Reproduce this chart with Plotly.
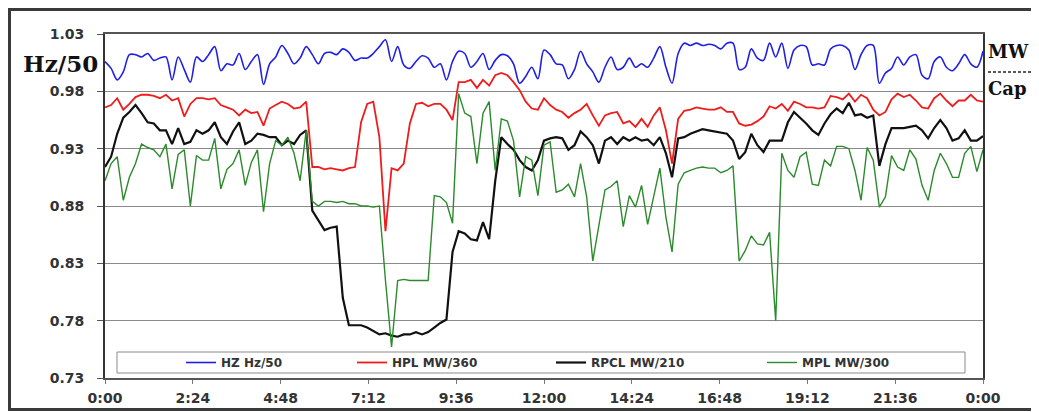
import plotly.graph_objects as go

# ---------------- data ----------------
minutes = list(range(0, 1441, 10))  # 10-minute samples over one day

hz_hz50 = [
    1.006, 1.000, 0.990, 0.997, 1.012, 1.012, 1.010, 1.013, 1.007, 1.009,
    1.010, 0.990, 1.010, 0.999, 0.988, 1.010, 1.006, 1.012, 1.019, 0.998,
    1.004, 1.003, 1.013, 0.999, 1.006, 1.012, 0.986, 1.004, 1.010, 1.020,
    1.013, 1.004, 1.009, 1.019, 1.012, 1.004, 1.013, 1.014, 1.012, 1.017,
    1.014, 1.007, 1.009, 1.009, 1.013, 1.019, 1.025, 1.006, 1.019, 1.003,
    1.000, 1.006, 1.011, 1.009, 1.001, 1.004, 0.990, 1.006, 1.015, 1.013,
    1.001, 1.006, 1.013, 0.999, 1.007, 1.012, 1.011, 1.004, 0.987, 0.993,
    1.001, 0.991, 1.016, 1.012, 1.004, 1.003, 0.991, 0.999, 1.015, 1.004,
    0.997, 0.988, 1.001, 1.010, 0.999, 1.001, 1.009, 1.001, 1.004, 1.001,
    1.009, 1.019, 1.001, 0.987, 1.013, 1.022, 1.020, 1.022, 1.020, 1.021,
    1.020, 1.017, 1.022, 1.022, 0.999, 1.001, 1.017, 1.009, 1.007, 1.022,
    1.010, 1.022, 1.000, 1.016, 1.020, 1.019, 1.003, 1.004, 1.003, 1.017,
    1.020, 1.020, 1.016, 0.999, 1.012, 1.020, 1.020, 0.987, 0.996, 1.000,
    1.010, 1.003, 1.010, 1.012, 0.994, 0.991, 1.006, 1.010, 1.001, 0.998,
    1.004, 1.012, 1.004, 1.001, 1.015,
]

hpl_mw360 = [
    0.966, 0.968, 0.974, 0.964, 0.969, 0.975, 0.977, 0.977, 0.976, 0.974,
    0.977, 0.972, 0.974, 0.958, 0.969, 0.974, 0.974, 0.973, 0.974, 0.968,
    0.966, 0.964, 0.959, 0.964, 0.961, 0.962, 0.950, 0.965, 0.968, 0.971,
    0.969, 0.965, 0.966, 0.971, 0.914, 0.914, 0.912, 0.913, 0.912, 0.911,
    0.913, 0.914, 0.953, 0.969, 0.971, 0.940, 0.858, 0.913, 0.911, 0.917,
    0.952, 0.969, 0.970, 0.967, 0.969, 0.969, 0.964, 0.955, 0.988, 0.988,
    0.990, 0.983, 0.990, 0.985, 0.994, 0.996, 0.994, 0.988, 0.981, 0.971,
    0.965, 0.964, 0.974, 0.968, 0.964, 0.962, 0.957, 0.961, 0.964, 0.969,
    0.959, 0.950, 0.959, 0.961, 0.962, 0.952, 0.954, 0.949, 0.956, 0.949,
    0.959, 0.966, 0.946, 0.917, 0.956, 0.963, 0.964, 0.966, 0.965, 0.964,
    0.964, 0.966, 0.962, 0.962, 0.952, 0.950, 0.951, 0.954, 0.958, 0.967,
    0.965, 0.969, 0.963, 0.971, 0.969, 0.966, 0.966, 0.965, 0.966, 0.976,
    0.975, 0.973, 0.978, 0.971, 0.977, 0.974, 0.964, 0.959, 0.962, 0.973,
    0.978, 0.975, 0.977, 0.972, 0.966, 0.965, 0.974, 0.978, 0.972, 0.967,
    0.972, 0.972, 0.977, 0.972, 0.971,
]

rpcl_mw210 = [
    0.914, 0.923, 0.943, 0.957, 0.962, 0.968, 0.961, 0.953, 0.952, 0.946,
    0.946, 0.934, 0.948, 0.934, 0.936, 0.946, 0.943, 0.946, 0.953, 0.940,
    0.934, 0.945, 0.953, 0.934, 0.937, 0.943, 0.942, 0.940, 0.940, 0.933,
    0.937, 0.934, 0.942, 0.946, 0.876, 0.867, 0.859, 0.861, 0.862, 0.800,
    0.776, 0.776, 0.776, 0.774, 0.771, 0.768, 0.769, 0.767, 0.766, 0.768,
    0.768, 0.770, 0.768, 0.770, 0.774, 0.778, 0.781, 0.840, 0.858, 0.856,
    0.851, 0.850, 0.866, 0.851, 0.902, 0.940, 0.934, 0.929, 0.920, 0.914,
    0.911, 0.920, 0.937, 0.939, 0.940, 0.939, 0.929, 0.933, 0.945, 0.940,
    0.933, 0.917, 0.937, 0.940, 0.934, 0.940, 0.937, 0.940, 0.937, 0.938,
    0.933, 0.940, 0.926, 0.905, 0.939, 0.940, 0.943, 0.945, 0.947, 0.946,
    0.945, 0.944, 0.943, 0.937, 0.921, 0.927, 0.943, 0.933, 0.927, 0.937,
    0.937, 0.937, 0.953, 0.962, 0.957, 0.952, 0.946, 0.942, 0.952, 0.960,
    0.965, 0.961, 0.970, 0.959, 0.960, 0.957, 0.959, 0.915, 0.934, 0.948,
    0.948, 0.948, 0.949, 0.950, 0.946, 0.939, 0.948, 0.955, 0.948, 0.937,
    0.939, 0.946, 0.937, 0.937, 0.941,
]

mpl_mw300 = [
    0.902, 0.917, 0.923, 0.885, 0.905, 0.917, 0.934, 0.931, 0.929, 0.923,
    0.934, 0.895, 0.925, 0.929, 0.880, 0.924, 0.920, 0.920, 0.939, 0.895,
    0.912, 0.917, 0.929, 0.898, 0.918, 0.929, 0.875, 0.917, 0.937, 0.933,
    0.940, 0.926, 0.902, 0.946, 0.884, 0.880, 0.884, 0.884, 0.883, 0.884,
    0.882, 0.882, 0.880, 0.880, 0.879, 0.880, 0.815, 0.757, 0.815, 0.816,
    0.815, 0.815, 0.815, 0.815, 0.889, 0.888, 0.883, 0.865, 0.978, 0.961,
    0.958, 0.917, 0.961, 0.971, 0.911, 0.956, 0.954, 0.937, 0.888, 0.923,
    0.920, 0.889, 0.933, 0.936, 0.892, 0.894, 0.899, 0.888, 0.917, 0.888,
    0.832, 0.862, 0.894, 0.897, 0.902, 0.862, 0.889, 0.879, 0.898, 0.864,
    0.888, 0.913, 0.870, 0.840, 0.899, 0.909, 0.911, 0.913, 0.914, 0.913,
    0.913, 0.909, 0.911, 0.915, 0.832, 0.841, 0.854, 0.847, 0.846, 0.857,
    0.780, 0.926, 0.911, 0.905, 0.923, 0.927, 0.899, 0.898, 0.920, 0.915,
    0.932, 0.932, 0.930, 0.911, 0.885, 0.931, 0.920, 0.879, 0.888, 0.924,
    0.914, 0.911, 0.929, 0.921, 0.898, 0.885, 0.911, 0.926, 0.917, 0.905,
    0.905, 0.926, 0.932, 0.910, 0.929,
]

series_names = ["HZ Hz/50", "HPL MW/360", "RPCL MW/210", "MPL MW/300"]
x_tick_vals = [0, 144, 288, 432, 576, 720, 864, 1008, 1152, 1296, 1440]
x_tick_labels = ["0:00", "2:24", "4:48", "7:12", "9:36", "12:00",
                 "14:24", "16:48", "19:12", "21:36", "0:00"]
y_tick_vals = [0.73, 0.78, 0.83, 0.88, 0.93, 0.98, 1.03]
y_tick_labels = ["0.73", "0.78", "0.83", "0.88", "0.93", "0.98", "1.03"]

# ---------------- layout geometry ----------------
# The page body has an 8px margin, so the figure starts at screen (8, 8).
OFF = 8
W, H = 1031, 404
PL, PR, PT, PB = 105, 983, 34, 378          # plot area in screen pixels
L, R, T, B = PL - OFF, OFF + W - PR, PT - OFF, OFF + H - PB
PW, PH = PR - PL, PB - PT


def px(xs):
    """screen x pixel -> paper x"""
    return (xs - PL) / PW


def py(ys):
    """screen y pixel -> paper y"""
    return (PB - ys) / PH


colors = ["#1f1fe6", "#ee1c1c", "#111111", "#2b8a2b"]
widths = [1.6, 1.8, 2.2, 1.4]
shapes = ["spline", "linear", "linear", "linear"]
series = [hz_hz50, hpl_mw360, rpcl_mw210, mpl_mw300]
legend_ids = ["legend", "legend2", "legend3", "legend4"]
legend_line_start = [187, 358, 557, 768]

fig = go.Figure()
for name, ys, c, w, shp, lg in zip(series_names, series, colors, widths,
                                   shapes, legend_ids):
    line = dict(color=c, width=w, shape=shp)
    if shp == "spline":
        line["smoothing"] = 0.9
    fig.add_trace(go.Scatter(x=minutes, y=ys, mode="lines", name=name,
                             line=line, legend=lg))

legend_font = dict(family="DejaVu Sans", size=12, color="#333333", weight="bold")
legend_y = py(362.5)
layout_legends = {}
for lg, xs in zip(legend_ids, legend_line_start):
    layout_legends[lg] = dict(
        x=px(xs - 6), y=legend_y, xanchor="left", yanchor="middle",
        xref="paper", yref="paper", orientation="h",
        bgcolor="rgba(0,0,0,0)", borderwidth=0, font=legend_font,
        itemwidth=30,
    )

tick_font = dict(family="DejaVu Sans", size=14, color="#333333", weight="bold")

fig.update_layout(
    width=W, height=H, autosize=False,
    margin=dict(l=L, r=R, t=T, b=B, pad=0, autoexpand=False),
    paper_bgcolor="white", plot_bgcolor="white",
    showlegend=True,
    **layout_legends,
    xaxis=dict(
        range=[0, 1440], tickmode="array", tickvals=x_tick_vals,
        ticktext=x_tick_labels, showgrid=False, zeroline=False,
        showline=True, linecolor="#555555", linewidth=1.5, mirror=True,
        ticks="outside", ticklen=4, tickcolor="#777777", tickwidth=1,
        tickfont=tick_font, ticklabelstandoff=2, automargin=False,
    ),
    yaxis=dict(
        range=[0.73, 1.03], tickmode="array", tickvals=y_tick_vals,
        ticktext=y_tick_labels, showgrid=True, gridcolor="#8a8a8a",
        gridwidth=1, zeroline=False,
        showline=True, linecolor="#333333", linewidth=2, mirror=True,
        ticks="outside", ticklen=6, tickcolor="#555555", tickwidth=1,
        tickfont=tick_font, ticklabelstandoff=10, automargin=False,
    ),
)

serif = dict(family="DejaVu Serif", color="#111111", weight="bold")

fig.add_annotation(text="Hz/50", x=px(60), y=py(63), xref="paper", yref="paper",
                   xanchor="center", yanchor="middle", showarrow=False,
                   font=dict(size=23, **serif))
fig.add_annotation(text="MW", x=px(986), y=py(52), xref="paper", yref="paper",
                   xanchor="left", yanchor="middle", showarrow=False,
                   font=dict(size=18, **serif))
fig.add_annotation(text="Cap", x=px(986), y=py(89), xref="paper", yref="paper",
                   xanchor="left", yanchor="middle", showarrow=False,
                   font=dict(size=18, **serif))

# dotted separator between MW and Cap
fig.add_shape(type="line", xref="paper", yref="paper",
              x0=px(988), x1=px(1045), y0=py(72), y1=py(72),
              line=dict(color="#222222", width=1.5, dash="3px,2px"))

# legend box inside the plot
fig.add_shape(type="rect", xref="paper", yref="paper",
              x0=px(117), x1=px(965), y0=py(373), y1=py(352),
              line=dict(color="#8a8a8a", width=1), fillcolor="white",
              layer="below")

# outer chart frame (hugging the figure edges)
fig.add_shape(type="rect", xref="paper", yref="paper",
              x0=px(9.5), x1=px(1070), y0=py(409.5), y1=py(9.5),
              line=dict(color="#3a3a3a", width=3), fillcolor="rgba(0,0,0,0)",
              layer="above")

fig.write_html("out.html")
